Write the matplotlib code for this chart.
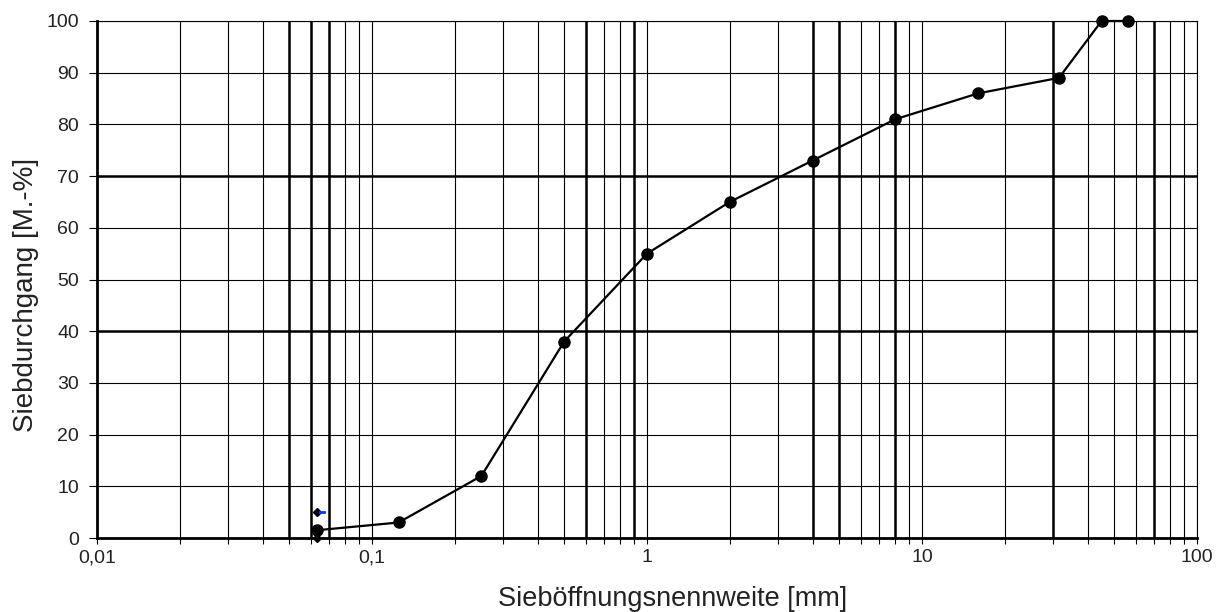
"""
Sieblinie (Korngrößenverteilung) - Nachbau des Diagramms mit matplotlib
"""

import matplotlib
matplotlib.use('Agg')
import matplotlib.pyplot as plt
import matplotlib.ticker as mticker
import numpy as np

# Daten der Sieblinie
sieb_mm = [0.063, 0.125, 0.25, 0.5, 1, 2, 4, 8, 16, 31.5, 45, 56]
durchgang = [1.5, 3, 12, 38, 55, 65, 73, 81, 86, 89, 100, 100]

# Zusatzpunkte (Rauten) bei 0,063 mm
raute_mm = [0.063, 0.063]
raute_wert = [5, 0]
blau_mm = [0.0645, 0.067]
blau_wert = [5, 5]

# Achsbeschriftung
x_ticks = [0.01, 0.1, 1, 10, 100]
x_labels = ['0,01', '0,1', '1', '10', '100']
y_ticks = list(range(0, 101, 10))

# Gitterlinien, die im Original dicker erscheinen
dick_x = [0.05, 0.06, 0.07, 0.6, 0.9, 4, 5, 8, 30, 70]
dick_y = [40, 70]

plt.rcParams['font.family'] = ['Liberation Sans', 'DejaVu Sans']

fig = plt.figure(figsize=(12.26, 6.12), dpi=100)
ax = fig.add_axes([0.0791, 0.1209, 0.8972, 0.8448])

ax.set_xscale('log')
ax.set_xlim(0.01, 100)
ax.set_ylim(0, 100)

# Gitter
ax.xaxis.set_major_locator(mticker.FixedLocator(x_ticks))
ax.xaxis.set_major_formatter(mticker.FixedFormatter(x_labels))
ax.xaxis.set_minor_locator(mticker.LogLocator(base=10, subs=np.arange(2, 10)))
ax.xaxis.set_minor_formatter(mticker.NullFormatter())
ax.set_yticks(y_ticks)

ax.grid(True, which='both', axis='x', color='black', linewidth=0.8)
ax.grid(True, which='major', axis='y', color='black', linewidth=0.8)
for xv in dick_x:
    ax.axvline(xv, color='black', linewidth=1.8, zorder=1)
for yv in dick_y:
    ax.axhline(yv, color='black', linewidth=1.8, zorder=1)
ax.set_axisbelow(True)

for side in ['top', 'right']:
    ax.spines[side].set_linewidth(0.8)
for side in ['left', 'bottom']:
    ax.spines[side].set_linewidth(2.0)

ax.tick_params(axis='both', which='both', direction='out', width=0.8,
               color='black', labelcolor='#222222', labelsize=14)
ax.tick_params(axis='x', which='both', length=4, pad=4)
ax.tick_params(axis='y', which='both', length=6, pad=7)

# Sieblinie
ax.plot(sieb_mm, durchgang, color='black', linewidth=1.6, marker='o',
        markersize=8, clip_on=False, zorder=5)

# Rauten und kleine blaue Markierung
ax.plot(raute_mm, raute_wert, linestyle='none', marker='D', markersize=4.5,
        color='black', clip_on=False, zorder=6)
ax.plot(blau_mm, blau_wert, color='#1030ff', linewidth=2, zorder=6)

ax.set_xlabel('Sieböffnungsnennweite [mm]', fontsize=19.5, color='#222222')
ax.set_ylabel('Siebdurchgang [M.-%]', fontsize=20, color='#222222')
ax.xaxis.set_label_coords(0.5236, -0.092)
ax.yaxis.set_label_coords(-0.053, 0.47)

fig.savefig('out.png', dpi=100, facecolor='white')
